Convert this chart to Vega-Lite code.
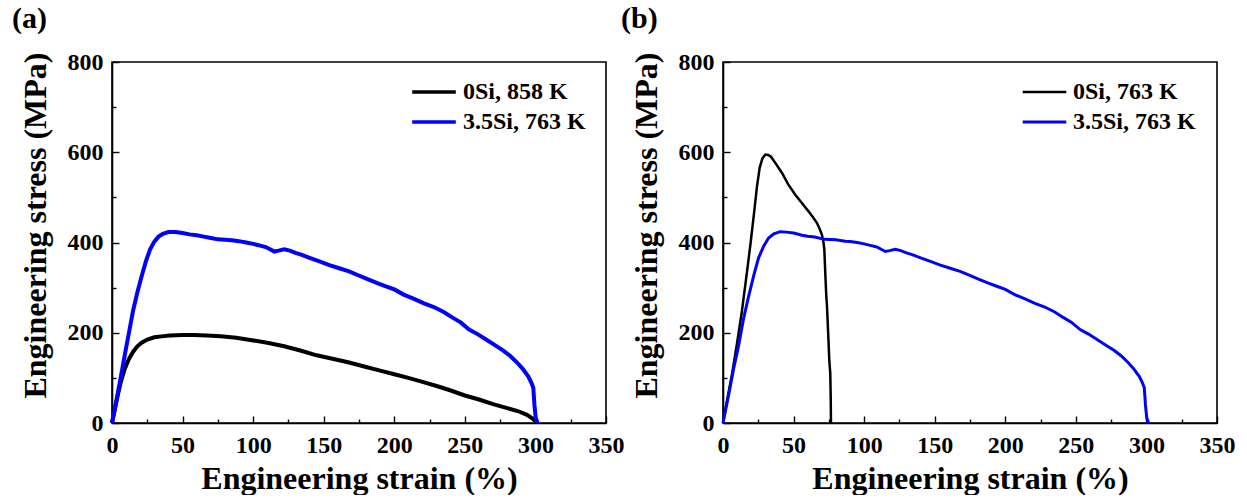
{
  "$schema": "https://vega.github.io/schema/vega-lite/v6.json",
  "background": "white",
  "padding": {"left": 11, "top": 3, "right": 0, "bottom": 0},
  "spacing": 117,
  "bounds": "flush",
  "config": {
    "view": {"stroke": "#000000", "strokeWidth": 1.6},
    "font": "Liberation Serif",
    "axis": {
      "grid": false,
      "domainColor": "#000000",
      "domainWidth": 1.6,
      "tickColor": "#000000",
      "tickWidth": 1.4,
      "labelFont": "Liberation Serif",
      "labelFontWeight": "bold",
      "labelFontSize": 24,
      "labelColor": "#000000",
      "labelFlush": false,
      "labelOverlap": false,
      "titleFont": "Liberation Serif",
      "titleFontWeight": "bold",
      "titleFontSize": 32,
      "titleColor": "#000000"
    },
    "legend": {
      "labelFont": "Liberation Serif",
      "labelFontWeight": "bold",
      "labelFontSize": 24,
      "labelColor": "#000000",
      "symbolType": "stroke",
      "symbolSize": 1900,
      "labelOffset": 5,
      "clipHeight": 24,
      "rowPadding": 6,
      "padding": 0
    }
  },
  "datasets": {
    "a": [
      {"strain": 0, "stress": 0, "series": "0Si, 858 K"},
      {"strain": 2, "stress": 30, "series": "0Si, 858 K"},
      {"strain": 4, "stress": 60, "series": "0Si, 858 K"},
      {"strain": 6, "stress": 88, "series": "0Si, 858 K"},
      {"strain": 9, "stress": 120, "series": "0Si, 858 K"},
      {"strain": 12, "stress": 142, "series": "0Si, 858 K"},
      {"strain": 15, "stress": 158, "series": "0Si, 858 K"},
      {"strain": 18, "stress": 170, "series": "0Si, 858 K"},
      {"strain": 21, "stress": 178, "series": "0Si, 858 K"},
      {"strain": 25, "stress": 185, "series": "0Si, 858 K"},
      {"strain": 30, "stress": 190, "series": "0Si, 858 K"},
      {"strain": 35, "stress": 192, "series": "0Si, 858 K"},
      {"strain": 41, "stress": 194, "series": "0Si, 858 K"},
      {"strain": 50, "stress": 195, "series": "0Si, 858 K"},
      {"strain": 58, "stress": 195, "series": "0Si, 858 K"},
      {"strain": 67, "stress": 194, "series": "0Si, 858 K"},
      {"strain": 77, "stress": 192, "series": "0Si, 858 K"},
      {"strain": 88, "stress": 189, "series": "0Si, 858 K"},
      {"strain": 98, "stress": 184, "series": "0Si, 858 K"},
      {"strain": 110, "stress": 178, "series": "0Si, 858 K"},
      {"strain": 122, "stress": 170, "series": "0Si, 858 K"},
      {"strain": 134, "stress": 160, "series": "0Si, 858 K"},
      {"strain": 145, "stress": 150, "series": "0Si, 858 K"},
      {"strain": 157, "stress": 142, "series": "0Si, 858 K"},
      {"strain": 168, "stress": 134, "series": "0Si, 858 K"},
      {"strain": 180, "stress": 124, "series": "0Si, 858 K"},
      {"strain": 190, "stress": 116, "series": "0Si, 858 K"},
      {"strain": 200, "stress": 108, "series": "0Si, 858 K"},
      {"strain": 210, "stress": 100, "series": "0Si, 858 K"},
      {"strain": 220, "stress": 91, "series": "0Si, 858 K"},
      {"strain": 230, "stress": 82, "series": "0Si, 858 K"},
      {"strain": 240, "stress": 72, "series": "0Si, 858 K"},
      {"strain": 250, "stress": 61, "series": "0Si, 858 K"},
      {"strain": 260, "stress": 52, "series": "0Si, 858 K"},
      {"strain": 270, "stress": 42, "series": "0Si, 858 K"},
      {"strain": 280, "stress": 33, "series": "0Si, 858 K"},
      {"strain": 288, "stress": 26, "series": "0Si, 858 K"},
      {"strain": 294, "stress": 18, "series": "0Si, 858 K"},
      {"strain": 298, "stress": 10, "series": "0Si, 858 K"},
      {"strain": 300, "stress": 4, "series": "0Si, 858 K"},
      {"strain": 301, "stress": 0, "series": "0Si, 858 K"},
      {"strain": 0, "stress": 0, "series": "3.5Si, 763 K"},
      {"strain": 3, "stress": 48, "series": "3.5Si, 763 K"},
      {"strain": 6, "stress": 98, "series": "3.5Si, 763 K"},
      {"strain": 9, "stress": 150, "series": "3.5Si, 763 K"},
      {"strain": 12, "stress": 200, "series": "3.5Si, 763 K"},
      {"strain": 15, "stress": 250, "series": "3.5Si, 763 K"},
      {"strain": 18, "stress": 290, "series": "3.5Si, 763 K"},
      {"strain": 21, "stress": 325, "series": "3.5Si, 763 K"},
      {"strain": 24, "stress": 358, "series": "3.5Si, 763 K"},
      {"strain": 27, "stress": 385, "series": "3.5Si, 763 K"},
      {"strain": 30, "stress": 402, "series": "3.5Si, 763 K"},
      {"strain": 33, "stress": 413, "series": "3.5Si, 763 K"},
      {"strain": 36, "stress": 419, "series": "3.5Si, 763 K"},
      {"strain": 40, "stress": 423, "series": "3.5Si, 763 K"},
      {"strain": 45, "stress": 423, "series": "3.5Si, 763 K"},
      {"strain": 50, "stress": 421, "series": "3.5Si, 763 K"},
      {"strain": 55, "stress": 418, "series": "3.5Si, 763 K"},
      {"strain": 60, "stress": 416, "series": "3.5Si, 763 K"},
      {"strain": 65, "stress": 413, "series": "3.5Si, 763 K"},
      {"strain": 70, "stress": 410, "series": "3.5Si, 763 K"},
      {"strain": 75, "stress": 407, "series": "3.5Si, 763 K"},
      {"strain": 80, "stress": 406, "series": "3.5Si, 763 K"},
      {"strain": 85, "stress": 405, "series": "3.5Si, 763 K"},
      {"strain": 90, "stress": 403, "series": "3.5Si, 763 K"},
      {"strain": 95, "stress": 400, "series": "3.5Si, 763 K"},
      {"strain": 100, "stress": 397, "series": "3.5Si, 763 K"},
      {"strain": 105, "stress": 393, "series": "3.5Si, 763 K"},
      {"strain": 109, "stress": 390, "series": "3.5Si, 763 K"},
      {"strain": 112, "stress": 385, "series": "3.5Si, 763 K"},
      {"strain": 115, "stress": 380, "series": "3.5Si, 763 K"},
      {"strain": 118, "stress": 382, "series": "3.5Si, 763 K"},
      {"strain": 122, "stress": 385, "series": "3.5Si, 763 K"},
      {"strain": 126, "stress": 382, "series": "3.5Si, 763 K"},
      {"strain": 130, "stress": 377, "series": "3.5Si, 763 K"},
      {"strain": 134, "stress": 373, "series": "3.5Si, 763 K"},
      {"strain": 140, "stress": 366, "series": "3.5Si, 763 K"},
      {"strain": 147, "stress": 358, "series": "3.5Si, 763 K"},
      {"strain": 154, "stress": 350, "series": "3.5Si, 763 K"},
      {"strain": 161, "stress": 343, "series": "3.5Si, 763 K"},
      {"strain": 168, "stress": 336, "series": "3.5Si, 763 K"},
      {"strain": 174, "stress": 328, "series": "3.5Si, 763 K"},
      {"strain": 181, "stress": 319, "series": "3.5Si, 763 K"},
      {"strain": 188, "stress": 310, "series": "3.5Si, 763 K"},
      {"strain": 194, "stress": 303, "series": "3.5Si, 763 K"},
      {"strain": 200, "stress": 296, "series": "3.5Si, 763 K"},
      {"strain": 207, "stress": 284, "series": "3.5Si, 763 K"},
      {"strain": 214, "stress": 275, "series": "3.5Si, 763 K"},
      {"strain": 221, "stress": 265, "series": "3.5Si, 763 K"},
      {"strain": 228, "stress": 257, "series": "3.5Si, 763 K"},
      {"strain": 235, "stress": 246, "series": "3.5Si, 763 K"},
      {"strain": 241, "stress": 234, "series": "3.5Si, 763 K"},
      {"strain": 247, "stress": 223, "series": "3.5Si, 763 K"},
      {"strain": 253, "stress": 207, "series": "3.5Si, 763 K"},
      {"strain": 259, "stress": 197, "series": "3.5Si, 763 K"},
      {"strain": 265, "stress": 185, "series": "3.5Si, 763 K"},
      {"strain": 271, "stress": 173, "series": "3.5Si, 763 K"},
      {"strain": 277, "stress": 161, "series": "3.5Si, 763 K"},
      {"strain": 282, "stress": 149, "series": "3.5Si, 763 K"},
      {"strain": 287, "stress": 134, "series": "3.5Si, 763 K"},
      {"strain": 291, "stress": 120, "series": "3.5Si, 763 K"},
      {"strain": 295, "stress": 103, "series": "3.5Si, 763 K"},
      {"strain": 297, "stress": 90, "series": "3.5Si, 763 K"},
      {"strain": 298.5, "stress": 78, "series": "3.5Si, 763 K"},
      {"strain": 299.3, "stress": 40, "series": "3.5Si, 763 K"},
      {"strain": 300.2, "stress": 12, "series": "3.5Si, 763 K"},
      {"strain": 301.5, "stress": 0, "series": "3.5Si, 763 K"}
    ],
    "b": [
      {"strain": 0, "stress": 0, "series": "0Si, 763 K"},
      {"strain": 3, "stress": 52, "series": "0Si, 763 K"},
      {"strain": 6.6, "stress": 112, "series": "0Si, 763 K"},
      {"strain": 10, "stress": 178, "series": "0Si, 763 K"},
      {"strain": 13.5, "stress": 250, "series": "0Si, 763 K"},
      {"strain": 17, "stress": 335, "series": "0Si, 763 K"},
      {"strain": 19.4, "stress": 395, "series": "0Si, 763 K"},
      {"strain": 22, "stress": 465, "series": "0Si, 763 K"},
      {"strain": 24.1, "stress": 525, "series": "0Si, 763 K"},
      {"strain": 26, "stress": 566, "series": "0Si, 763 K"},
      {"strain": 28, "stress": 587, "series": "0Si, 763 K"},
      {"strain": 30, "stress": 595, "series": "0Si, 763 K"},
      {"strain": 32, "stress": 594, "series": "0Si, 763 K"},
      {"strain": 34, "stress": 590, "series": "0Si, 763 K"},
      {"strain": 38, "stress": 572, "series": "0Si, 763 K"},
      {"strain": 42, "stress": 553, "series": "0Si, 763 K"},
      {"strain": 46, "stress": 530, "series": "0Si, 763 K"},
      {"strain": 51.2, "stress": 506, "series": "0Si, 763 K"},
      {"strain": 56, "stress": 487, "series": "0Si, 763 K"},
      {"strain": 60.6, "stress": 469, "series": "0Si, 763 K"},
      {"strain": 64, "stress": 455, "series": "0Si, 763 K"},
      {"strain": 66.6, "stress": 443, "series": "0Si, 763 K"},
      {"strain": 68.5, "stress": 430, "series": "0Si, 763 K"},
      {"strain": 70.1, "stress": 417, "series": "0Si, 763 K"},
      {"strain": 71.2, "stress": 400, "series": "0Si, 763 K"},
      {"strain": 71.8, "stress": 384, "series": "0Si, 763 K"},
      {"strain": 72.5, "stress": 330, "series": "0Si, 763 K"},
      {"strain": 73.2, "stress": 280, "series": "0Si, 763 K"},
      {"strain": 73.7, "stress": 258, "series": "0Si, 763 K"},
      {"strain": 74.5, "stress": 200, "series": "0Si, 763 K"},
      {"strain": 75.3, "stress": 140, "series": "0Si, 763 K"},
      {"strain": 76, "stress": 110, "series": "0Si, 763 K"},
      {"strain": 76.3, "stress": 60, "series": "0Si, 763 K"},
      {"strain": 76.5, "stress": 0, "series": "0Si, 763 K"},
      {"strain": 0, "stress": 0, "series": "3.5Si, 763 K"},
      {"strain": 4, "stress": 62, "series": "3.5Si, 763 K"},
      {"strain": 7.5, "stress": 120, "series": "3.5Si, 763 K"},
      {"strain": 11.1, "stress": 172, "series": "3.5Si, 763 K"},
      {"strain": 14.6, "stress": 232, "series": "3.5Si, 763 K"},
      {"strain": 18.1, "stress": 280, "series": "3.5Si, 763 K"},
      {"strain": 21.7, "stress": 326, "series": "3.5Si, 763 K"},
      {"strain": 25.2, "stress": 366, "series": "3.5Si, 763 K"},
      {"strain": 28.8, "stress": 392, "series": "3.5Si, 763 K"},
      {"strain": 32.3, "stress": 410, "series": "3.5Si, 763 K"},
      {"strain": 36, "stress": 419, "series": "3.5Si, 763 K"},
      {"strain": 40.6, "stress": 424, "series": "3.5Si, 763 K"},
      {"strain": 45, "stress": 423, "series": "3.5Si, 763 K"},
      {"strain": 50, "stress": 421, "series": "3.5Si, 763 K"},
      {"strain": 56, "stress": 416, "series": "3.5Si, 763 K"},
      {"strain": 60, "stress": 414, "series": "3.5Si, 763 K"},
      {"strain": 65, "stress": 412, "series": "3.5Si, 763 K"},
      {"strain": 71.8, "stress": 407, "series": "3.5Si, 763 K"},
      {"strain": 80, "stress": 406, "series": "3.5Si, 763 K"},
      {"strain": 86.6, "stress": 403, "series": "3.5Si, 763 K"},
      {"strain": 90, "stress": 402, "series": "3.5Si, 763 K"},
      {"strain": 95, "stress": 400, "series": "3.5Si, 763 K"},
      {"strain": 100, "stress": 397, "series": "3.5Si, 763 K"},
      {"strain": 105, "stress": 393, "series": "3.5Si, 763 K"},
      {"strain": 109, "stress": 390, "series": "3.5Si, 763 K"},
      {"strain": 112, "stress": 385, "series": "3.5Si, 763 K"},
      {"strain": 115, "stress": 380, "series": "3.5Si, 763 K"},
      {"strain": 118, "stress": 382, "series": "3.5Si, 763 K"},
      {"strain": 122, "stress": 385, "series": "3.5Si, 763 K"},
      {"strain": 126, "stress": 382, "series": "3.5Si, 763 K"},
      {"strain": 130, "stress": 377, "series": "3.5Si, 763 K"},
      {"strain": 134, "stress": 373, "series": "3.5Si, 763 K"},
      {"strain": 140, "stress": 366, "series": "3.5Si, 763 K"},
      {"strain": 147, "stress": 358, "series": "3.5Si, 763 K"},
      {"strain": 154, "stress": 350, "series": "3.5Si, 763 K"},
      {"strain": 161, "stress": 343, "series": "3.5Si, 763 K"},
      {"strain": 168, "stress": 336, "series": "3.5Si, 763 K"},
      {"strain": 174, "stress": 328, "series": "3.5Si, 763 K"},
      {"strain": 181, "stress": 319, "series": "3.5Si, 763 K"},
      {"strain": 188, "stress": 310, "series": "3.5Si, 763 K"},
      {"strain": 194, "stress": 303, "series": "3.5Si, 763 K"},
      {"strain": 200, "stress": 296, "series": "3.5Si, 763 K"},
      {"strain": 207, "stress": 284, "series": "3.5Si, 763 K"},
      {"strain": 214, "stress": 275, "series": "3.5Si, 763 K"},
      {"strain": 221, "stress": 265, "series": "3.5Si, 763 K"},
      {"strain": 228, "stress": 257, "series": "3.5Si, 763 K"},
      {"strain": 235, "stress": 246, "series": "3.5Si, 763 K"},
      {"strain": 241, "stress": 234, "series": "3.5Si, 763 K"},
      {"strain": 247, "stress": 223, "series": "3.5Si, 763 K"},
      {"strain": 253, "stress": 207, "series": "3.5Si, 763 K"},
      {"strain": 259, "stress": 197, "series": "3.5Si, 763 K"},
      {"strain": 265, "stress": 185, "series": "3.5Si, 763 K"},
      {"strain": 271, "stress": 173, "series": "3.5Si, 763 K"},
      {"strain": 277, "stress": 161, "series": "3.5Si, 763 K"},
      {"strain": 282, "stress": 149, "series": "3.5Si, 763 K"},
      {"strain": 287, "stress": 134, "series": "3.5Si, 763 K"},
      {"strain": 291, "stress": 120, "series": "3.5Si, 763 K"},
      {"strain": 295, "stress": 103, "series": "3.5Si, 763 K"},
      {"strain": 297, "stress": 90, "series": "3.5Si, 763 K"},
      {"strain": 298.5, "stress": 78, "series": "3.5Si, 763 K"},
      {"strain": 299.3, "stress": 40, "series": "3.5Si, 763 K"},
      {"strain": 300.2, "stress": 12, "series": "3.5Si, 763 K"},
      {"strain": 301.5, "stress": 0, "series": "3.5Si, 763 K"}
    ]
  },
  "resolve": {"scale": {"color": "independent", "strokeWidth": "independent"}, "legend": {"color": "independent"}},
  "hconcat": [
    {
      "width": 494,
      "height": 361,
      "data": {"name": "a"},
      "title": {"text": "(a)", "anchor": "start", "frame": "group", "dx": -100, "fontSize": 30, "font": "Liberation Serif", "fontWeight": "bold", "color": "#000000", "baseline": "alphabetic", "offset": -8},
      "layer": [
        {
          "mark": {"type": "line", "strokeWidth": 4},
          "encoding": {
            "x": {"field": "strain", "type": "quantitative", "scale": {"domain": [0, 350], "nice": false},
                  "axis": {"values": [0, 50, 100, 150, 200, 250, 300, 350], "tickSize": -7, "labelPadding": 17, "title": "Engineering strain (%)", "titlePadding": 6}},
            "y": {"field": "stress", "type": "quantitative", "scale": {"domain": [0, 800], "nice": false},
                  "axis": {"values": [0, 200, 400, 600, 800], "tickSize": -7, "labelPadding": 16, "title": "Engineering stress (MPa)", "titlePadding": 15, "titleY": 163}},
            "color": {"field": "series", "type": "nominal",
                      "scale": {"domain": ["0Si, 858 K", "3.5Si, 763 K"], "range": ["#000000", "#0000ff"]},
                      "legend": {"title": null, "orient": "none", "legendX": 298, "legendY": 18, "symbolStrokeWidth": 3.5}}
          }
        },
        {
          "mark": {"type": "line", "opacity": 0},
          "encoding": {
            "x": {"field": "strain", "type": "quantitative", "axis": {"orient": "bottom", "values": [25, 75, 125, 175, 225, 275, 325], "tickSize": -4, "labels": false, "domain": false, "title": null}},
            "y": {"field": "stress", "type": "quantitative", "axis": {"orient": "left", "values": [100, 300, 500, 700], "tickSize": -4, "labels": false, "domain": false, "title": null}},
            "detail": {"field": "series"}
          }
        }
      ],
      "resolve": {"axis": {"x": "independent", "y": "independent"}}
    },
    {
      "width": 494,
      "height": 361,
      "data": {"name": "b"},
      "title": {"text": "(b)", "anchor": "start", "frame": "group", "dx": -102, "fontSize": 30, "font": "Liberation Serif", "fontWeight": "bold", "color": "#000000", "baseline": "alphabetic", "offset": -8},
      "layer": [
        {
          "mark": {"type": "line"},
          "encoding": {
            "x": {"field": "strain", "type": "quantitative", "scale": {"domain": [0, 350], "nice": false},
                  "axis": {"values": [0, 50, 100, 150, 200, 250, 300, 350], "tickSize": -7, "labelPadding": 17, "title": "Engineering strain (%)", "titlePadding": 6}},
            "y": {"field": "stress", "type": "quantitative", "scale": {"domain": [0, 800], "nice": false},
                  "axis": {"values": [0, 200, 400, 600, 800], "tickSize": -7, "labelPadding": 16, "title": "Engineering stress (MPa)", "titlePadding": 15, "titleY": 163}},
            "color": {"field": "series", "type": "nominal",
                      "scale": {"domain": ["0Si, 763 K", "3.5Si, 763 K"], "range": ["#000000", "#0000ff"]},
                      "legend": {"title": null, "orient": "none", "legendX": 298, "legendY": 18, "symbolStrokeWidth": 2.5}},
            "strokeWidth": {"field": "series", "type": "nominal",
                            "scale": {"domain": ["0Si, 763 K", "3.5Si, 763 K"], "range": [2.5, 3]}, "legend": null}
          }
        },
        {
          "mark": {"type": "line", "opacity": 0},
          "encoding": {
            "x": {"field": "strain", "type": "quantitative", "axis": {"orient": "bottom", "values": [25, 75, 125, 175, 225, 275, 325], "tickSize": -4, "labels": false, "domain": false, "title": null}},
            "y": {"field": "stress", "type": "quantitative", "axis": {"orient": "left", "values": [100, 300, 500, 700], "tickSize": -4, "labels": false, "domain": false, "title": null}},
            "detail": {"field": "series"}
          }
        }
      ],
      "resolve": {"axis": {"x": "independent", "y": "independent"}}
    }
  ]
}
